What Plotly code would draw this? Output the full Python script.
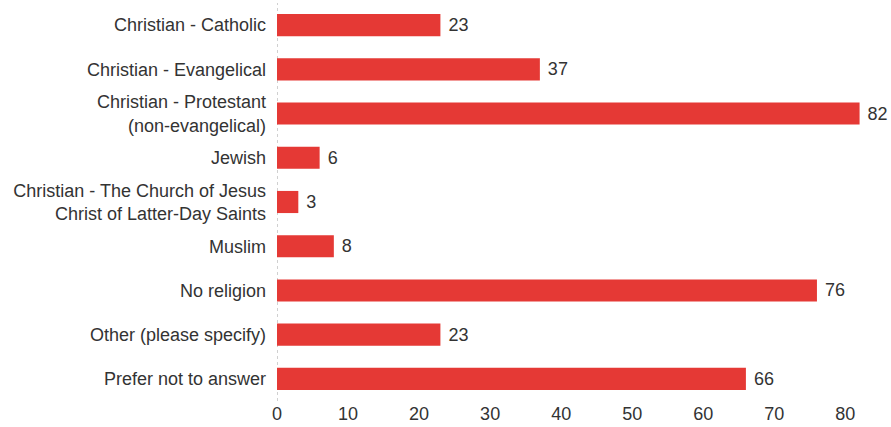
import plotly.graph_objects as go

categories = [
    "Christian - Catholic",
    "Christian - Evangelical",
    "Christian - Protestant<br>(non-evangelical)",
    "Jewish",
    "Christian - The Church of Jesus<br>Christ of Latter-Day Saints",
    "Muslim",
    "No religion",
    "Other (please specify)",
    "Prefer not to answer",
]
values = [23, 37, 82, 6, 3, 8, 76, 23, 66]
x_ticks = [0, 10, 20, 30, 40, 50, 60, 70, 80]

FONT = "Liberation Sans, Arial, sans-serif"

fig = go.Figure(go.Bar(
    y=categories,
    x=values,
    orientation="h",
    marker=dict(color="#e53935", line=dict(width=0)),
    texttemplate=" %{x}",
    textposition="outside",
    textfont=dict(family=FONT, size=18, color="#333333"),
    cliponaxis=False,
    width=0.5,
))

fig.add_shape(type="line", xref="x", yref="paper", x0=0, x1=0, y0=0, y1=1,
              line=dict(color="#d0d0d0", width=2, dash="dot"), layer="below")

fig.update_layout(
    width=891, height=427,
    margin=dict(l=277, r=3, t=3, b=26),
    paper_bgcolor="white", plot_bgcolor="white",
    font=dict(family=FONT, size=18, color="#333333"),
    showlegend=False,
    bargap=0.5,
)
fig.update_xaxes(range=[0, 86], tickvals=x_ticks, showgrid=False, zeroline=False,
                 showline=False, ticks="", tickfont=dict(size=18, color="#333333"))
fig.update_yaxes(autorange="reversed", showgrid=False, zeroline=False, showline=False,
                 ticks="", ticklabelstandoff=10, tickfont=dict(size=18, color="#333333"))

fig.write_html("out.html")
